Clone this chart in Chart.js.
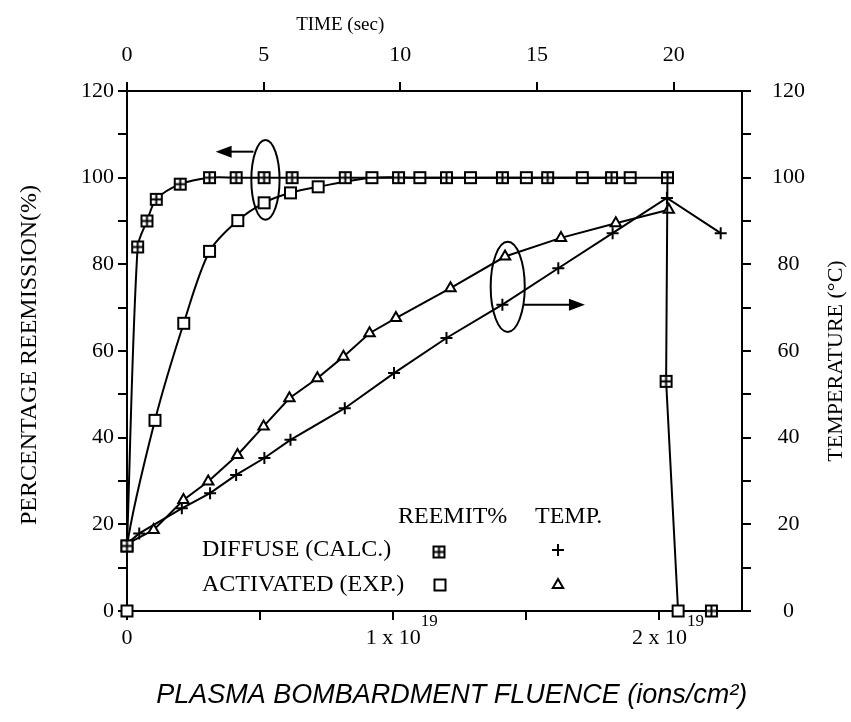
<!DOCTYPE html>
<html><head><meta charset="utf-8">
<script src="https://cdn.jsdelivr.net/npm/chart.js@4.4.0/dist/chart.umd.min.js"></script>
<style>html,body{margin:0;padding:0;background:#fff;} canvas{display:block;}</style>
</head><body>
<canvas id="c" width="851" height="722"></canvas>
<script>
// Fluence values are in units of 1e19 ions/cm^2
const diffuseReemitX = [0, 0.04, 0.075, 0.11, 0.2, 0.31, 0.41, 0.515, 0.62, 0.82, 1.02, 1.2, 1.41, 1.58, 1.82, 2.03];
const diffuseReemitY = [15, 84, 90, 95, 98.5, 100, 100, 100, 100, 100, 100, 100, 100, 100, 100, 100];
const diffuseDropX = [2.03, 2.025, 2.07, 2.195];
const diffuseDropY = [100, 53, 0, 0];
const activatedReemitX = [0, 0, 0.105, 0.213, 0.31, 0.416, 0.515, 0.614, 0.718, 0.92, 1.1, 1.29, 1.5, 1.71, 1.89];
const activatedReemitY = [0, 15, 44, 66.4, 83, 90.1, 94.2, 96.5, 97.9, 100, 100, 100, 100, 100, 100];
const diffuseTempX = [0, 0.046, 0.206, 0.312, 0.41, 0.516, 0.614, 0.818, 1.003, 1.2, 1.41, 1.62, 1.824, 2.028, 2.23];
const diffuseTempY = [15.5, 17.9, 23.7, 27.2, 31.4, 35.3, 39.5, 46.8, 54.9, 63, 70.7, 79.1, 87.2, 95.3, 87.2];
const activatedTempX = [0, 0.10, 0.212, 0.305, 0.415, 0.513, 0.61, 0.715, 0.813, 0.911, 1.01, 1.215, 1.42, 1.63, 1.836, 2.035];
const activatedTempY = [15.5, 18.7, 25.6, 29.9, 36, 42.6, 49.1, 53.7, 58.7, 64.1, 67.6, 74.5, 81.8, 86.1, 89.5, 92.6];

const fluenceLabelValues = [0, 1, 2];
const fluenceLabelTexts = ['0', '1 x 10', '2 x 10'];
const fluenceLabelExps = ['', '19', '19'];
const timeTicks = [0, 5, 10, 15, 20];
const percentTicks = [0, 20, 40, 60, 80, 100, 120];
const tempTicks = [0, 20, 40, 60, 80, 100, 120];

const SERIF = '"Liberation Serif", "Times New Roman", serif';
Chart.defaults.font.family = SERIF;
Chart.defaults.color = '#000';

function makeBox(withCross) {
  const s = 15, c = document.createElement('canvas');
  c.width = s; c.height = s;
  const g = c.getContext('2d');
  g.fillStyle = '#fff'; g.fillRect(2, 2, s - 4, s - 4);
  g.strokeStyle = '#000'; g.lineWidth = 2; g.strokeRect(2, 2, s - 4, s - 4);
  if (withCross) {
    g.beginPath();
    g.moveTo(s / 2, 2); g.lineTo(s / 2, s - 2);
    g.moveTo(2, s / 2); g.lineTo(s - 2, s / 2);
    g.stroke();
  }
  return c;
}
const boxPlus = makeBox(true);
const box = makeBox(false);

const pts = (xs, ys) => xs.map((x, i) => ({x, y: ys[i]}));
const base = {borderColor: '#000', borderWidth: 2, clip: false, fill: false, backgroundColor: '#fff', pointBorderColor: '#000', pointBorderWidth: 2};

const tickFilter = list => (v) => list.includes(v) ? String(v) : '';

const axisCommon = {
  grid: {drawOnChartArea: false, drawTicks: true, tickLength: 9, color: '#000', lineWidth: 2},
  border: {display: true, color: '#000', width: 2}
};

const decor = {
  id: 'decor',
  afterDraw(chart) {
    const {ctx, chartArea: a} = chart;
    const {x, x2, y, y2} = chart.scales;
    ctx.save();
    ctx.fillStyle = '#000'; ctx.strokeStyle = '#000';

    // bottom tick labels with superscripts
    ctx.textBaseline = 'middle';
    fluenceLabelValues.forEach((v, i) => {
      const px = x.getPixelForValue(v);
      ctx.font = '22px ' + SERIF;
      ctx.textAlign = 'center';
      const t = fluenceLabelTexts[i];
      ctx.fillText(t, px, a.bottom + 27);
      if (fluenceLabelExps[i]) {
        const w = ctx.measureText(t).width;
        ctx.font = '17px ' + SERIF;
        ctx.textAlign = 'left';
        ctx.fillText(fluenceLabelExps[i], px + w / 2, a.bottom + 11);
      }
    });

    // axis titles
    ctx.textAlign = 'center';
    ctx.font = '19px ' + SERIF;
    ctx.fillText('TIME (sec)', x2.getPixelForValue(7.8), a.top - 66);

    ctx.font = 'italic 27px "Liberation Sans", Arial, sans-serif';
    ctx.fillText('PLASMA BOMBARDMENT FLUENCE (ions/cm\u00B2)', x.getPixelForValue(1.22), a.bottom + 84);

    ctx.save();
    ctx.translate(30, (a.top + a.bottom) / 2 + 4);
    ctx.rotate(-Math.PI / 2);
    ctx.font = '24px ' + SERIF;
    ctx.fillText('PERCENTAGE REEMISSION(%)', 0, 0);
    ctx.restore();

    ctx.save();
    ctx.translate(836, (a.top + a.bottom) / 2 + 10);
    ctx.rotate(-Math.PI / 2);
    ctx.font = '22px ' + SERIF;
    ctx.fillText('TEMPERATURE (\u00B0C)', 0, 0);
    ctx.restore();

    // ellipses & arrows (positioned in data units)
    ctx.lineWidth = 2;
    const ell = (cx, cy, hw, hh, sc) => {
      const px = x.getPixelForValue(cx), py = sc.getPixelForValue(cy);
      const rx = x.getPixelForValue(cx + hw) - px;
      const ry = py - sc.getPixelForValue(cy + hh);
      ctx.beginPath(); ctx.ellipse(px, py, rx, ry, 0, 0, Math.PI * 2); ctx.stroke();
    };
    const arrow = (x1, y1v, x2v, sc) => {
      const ax = x.getPixelForValue(x1), bx = x.getPixelForValue(x2v), py = sc.getPixelForValue(y1v);
      const dir = Math.sign(bx - ax);
      ctx.beginPath(); ctx.moveTo(ax, py); ctx.lineTo(bx - dir * 10, py); ctx.stroke();
      ctx.beginPath(); ctx.moveTo(bx, py); ctx.lineTo(bx - dir * 16, py - 6); ctx.lineTo(bx - dir * 16, py + 6); ctx.closePath(); ctx.fill();
    };
    ell(0.52, 99.5, 0.053, 9.2, y);
    arrow(0.475, 106, 0.333, y);
    ell(1.43, 74.8, 0.064, 10.4, y2);
    arrow(1.49, 70.7, 1.72, y2);

    // legend
    const L = a.left + 75;
    const r0 = a.bottom - 94, r1 = a.bottom - 61, r2 = a.bottom - 26;
    ctx.font = '24px ' + SERIF;
    ctx.textAlign = 'left';
    ctx.fillText('REEMIT%', a.left + 271, r0);
    ctx.fillText('TEMP.', a.left + 408, r0);
    ctx.fillText('DIFFUSE (CALC.)', L, r1);
    ctx.fillText('ACTIVATED (EXP.)', L, r2);
    const dp = (style, px, py) => Chart.helpers.drawPoint(ctx, {pointStyle: style, radius: 6, rotation: 0, borderWidth: 2}, px, py);
    ctx.lineWidth = 2; ctx.fillStyle = '#fff';
    dp(boxPlus, a.left + 312, r1 + 2);
    dp(box, a.left + 313, r2);
    dp('cross', a.left + 431, r1);
    dp('triangle', a.left + 431, r2);
    ctx.restore();
  }
};

new Chart(document.getElementById('c'), {
  type: 'scatter',
  data: {
    datasets: [
      Object.assign({}, base, {label: 'DIFFUSE REEMIT', data: pts(diffuseReemitX, diffuseReemitY), yAxisID: 'y', showLine: true, tension: 0.3, pointStyle: boxPlus, pointRadius: 6}),
      Object.assign({}, base, {label: 'DIFFUSE REEMIT DROP', data: pts(diffuseDropX, diffuseDropY), yAxisID: 'y', showLine: true, tension: 0, pointStyle: [boxPlus, boxPlus, box, boxPlus], pointRadius: diffuseDropX.map((v, i) => i === 0 ? 0 : 6)}),
      Object.assign({}, base, {label: 'ACTIVATED REEMIT', data: pts(activatedReemitX, activatedReemitY), yAxisID: 'y', showLine: true, tension: 0.3, pointStyle: box, pointRadius: 6}),
      Object.assign({}, base, {label: 'DIFFUSE TEMP', data: pts(diffuseTempX, diffuseTempY), yAxisID: 'y2', showLine: true, tension: 0, pointStyle: 'cross', pointRadius: diffuseTempX.map((v, i) => i === 0 ? 0 : 6)}),
      Object.assign({}, base, {label: 'ACTIVATED TEMP', data: pts(activatedTempX, activatedTempY), yAxisID: 'y2', showLine: true, tension: 0, pointStyle: 'triangle', pointRadius: activatedTempX.map((v, i) => i === 0 ? 0 : 6)})
    ]
  },
  options: {
    responsive: false,
    animation: false,
    devicePixelRatio: 1,
    layout: {padding: 0},
    plugins: {legend: {display: false}, tooltip: {enabled: false}},
    scales: {
      x: Object.assign({}, axisCommon, {
        type: 'linear', position: 'bottom', min: 0, max: 2.31,
        ticks: {stepSize: 0.5, includeBounds: false, callback: () => ''},
        afterFit: s => { s.height = 111; }
      }),
      x2: Object.assign({}, axisCommon, {
        type: 'linear', position: 'top', min: 0, max: 22.5,
        ticks: {stepSize: 5, includeBounds: false, padding: 14, font: {size: 22}, callback: tickFilter(timeTicks), maxRotation: 0},
        afterFit: s => { s.height = 91; }
      }),
      y: Object.assign({}, axisCommon, {
        type: 'linear', position: 'left', min: 0, max: 120,
        ticks: {stepSize: 10, includeBounds: false, padding: 4, font: {size: 22}, callback: tickFilter(percentTicks)},
        afterFit: s => { s.width = 127; }
      }),
      y2: Object.assign({}, axisCommon, {
        type: 'linear', position: 'right', min: 0, max: 120,
        ticks: {stepSize: 10, includeBounds: false, padding: 21, crossAlign: 'center', font: {size: 22}, callback: tickFilter(tempTicks)},
        afterFit: s => { s.width = 109; }
      })
    }
  },
  plugins: [decor]
});
</script>
</body></html>
